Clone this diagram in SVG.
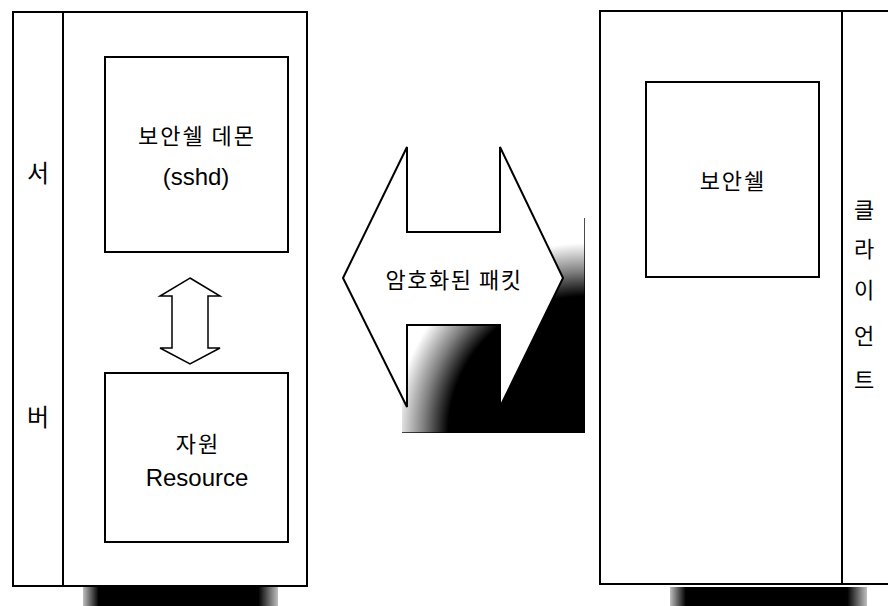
<svg xmlns="http://www.w3.org/2000/svg" width="888" height="606" viewBox="0 0 888 606">
<defs>
<style>
.ln{fill:none;stroke:#000;stroke-width:2}
.box{fill:#fff;stroke:#000;stroke-width:2}
.ko{font-family:"Noto Sans CJK KR","Noto Sans",sans-serif;fill:#000;text-anchor:middle}
.en{font-family:"Liberation Sans",Arial,sans-serif;fill:#000;text-anchor:middle}
</style>
<linearGradient id="shadeL" x1="0" y1="0" x2="1" y2="0">
<stop offset="0" stop-color="#000" stop-opacity="0.25"/>
<stop offset="0.08" stop-color="#000" stop-opacity="1"/>
<stop offset="0.9" stop-color="#000" stop-opacity="1"/>
<stop offset="1" stop-color="#000" stop-opacity="0.25"/>
</linearGradient>
<radialGradient id="shadeA" gradientUnits="userSpaceOnUse" cx="585" cy="433" r="190">
<stop offset="0" stop-color="#000" stop-opacity="1"/>
<stop offset="0.72" stop-color="#000" stop-opacity="1"/>
<stop offset="0.85" stop-color="#000" stop-opacity="0.5"/>
<stop offset="1" stop-color="#000" stop-opacity="0"/>
</radialGradient>
</defs>
<rect width="888" height="606" fill="#fff"/>

<g id="server">
<rect x="83" y="587" width="195" height="19" fill="url(#shadeL)"/>
<rect class="box" x="13" y="12" width="294" height="574"/>
<line class="ln" x1="63" y1="12" x2="63" y2="586"/>
<text class="ko" x="38" y="182" font-size="24">서</text>
<text class="ko" x="38" y="426" font-size="24">버</text>
</g>

<g id="sshd">
<rect class="box" x="105" y="57" width="183" height="195"/>
<text class="ko" x="197" y="144" font-size="22" letter-spacing="2">보안쉘 데몬</text>
<text class="en" x="196" y="185" font-size="24">(sshd)</text>
</g>

<g id="resource">
<rect class="box" x="105" y="373" width="183" height="169"/>
<text class="ko" x="198" y="452" font-size="22" letter-spacing="2">자원</text>
<text class="en" x="197" y="486" font-size="24">Resource</text>
</g>

<g id="client">
<rect x="670" y="587" width="197" height="19" fill="url(#shadeL)"/>
<rect class="box" x="600" y="11" width="300" height="573"/>
<line class="ln" x1="842" y1="11" x2="842" y2="584"/>
<text class="ko" x="864" y="218" font-size="22">클</text>
<text class="ko" x="864" y="257" font-size="22">라</text>
<text class="ko" x="864" y="298" font-size="22">이</text>
<text class="ko" x="864" y="344" font-size="22">언</text>
<text class="ko" x="864" y="388" font-size="22">트</text>
</g>

<g id="ssh-client">
<rect class="box" x="646" y="82" width="173" height="195"/>
<text class="ko" x="733" y="189" font-size="22" letter-spacing="2">보안쉘</text>
</g>

<g id="connectors">
<polygon points="190,278 220,296 208,296 208,348 220,348 190,364 160,348 172,348 172,296 160,296" fill="#fff" stroke="#000" stroke-width="1.5" stroke-linejoin="miter"/>
<rect x="402" y="218" width="183" height="215" fill="url(#shadeA)"/>
<polyline points="402,432.5 584.5,432.5 584.5,218" fill="none" stroke="#000" stroke-width="1" stroke-opacity="0.7"/>
<polygon points="343,278 407,147 407,232 500,232 500,147 563,278 500,407 500,325 407,325 407,407" fill="#fff" stroke="#000" stroke-width="2"/>
<text class="ko" x="454" y="288" font-size="22" letter-spacing="1.5">암호화된 패킷</text>
</g>
</svg>
